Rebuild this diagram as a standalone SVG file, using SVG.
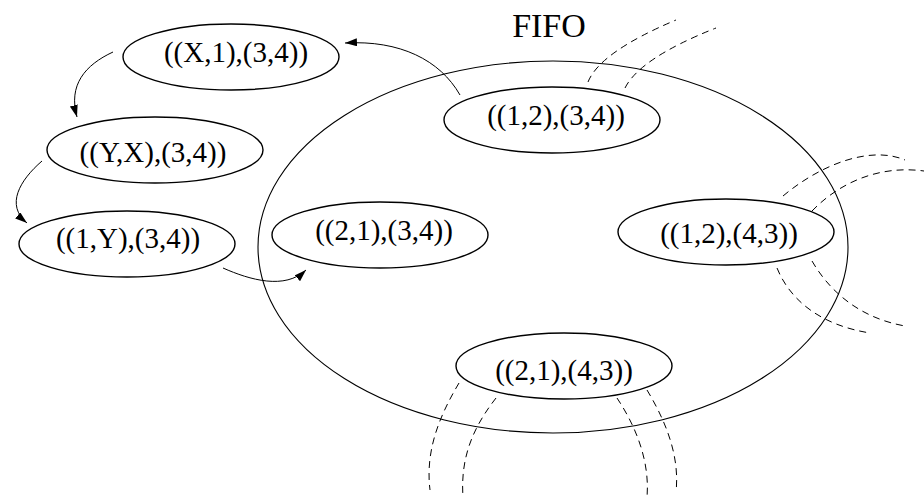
<svg xmlns="http://www.w3.org/2000/svg" width="924" height="501" viewBox="0 0 924 501">
<style>
.node ellipse{fill:#fff;stroke:#000;stroke-width:1.4}
.node text{font-family:"Liberation Serif","Times New Roman",serif;font-size:29px;text-anchor:middle;fill:#000}
.edge{fill:none;stroke:#000;stroke-width:1}
.dash{fill:none;stroke:#000;stroke-width:1;stroke-dasharray:7 5}
.title{font-family:"Liberation Serif","Times New Roman",serif;font-size:34px;text-anchor:middle;fill:#000}
</style>
<defs>
<marker id="ah" viewBox="0 0 12 8" refX="12" refY="4" markerWidth="12" markerHeight="8" markerUnits="userSpaceOnUse" orient="auto">
<path d="M0,0 L12,4 L0,8 Z" fill="#000"/>
</marker>
</defs>
<rect width="924" height="501" fill="#fff"/>
<ellipse id="fifo-set" cx="553" cy="247" rx="295" ry="186" fill="none" stroke="#000" stroke-width="1.1"/>
<text class="title" x="549" y="37">FIFO</text>
<g id="dashes">
<path class="dash" d="M588,82 Q600,52 676,20"/>
<path class="dash" d="M625,88 Q640,58 716,28"/>
<path class="dash" d="M783,196 C820,165 870,145 905,160"/>
<path class="dash" d="M812,211 C840,182 880,165 924,171"/>
<path class="dash" d="M777,268 C790,300 820,325 870,333"/>
<path class="dash" d="M812,261 C830,292 860,318 905,326"/>
<path class="dash" d="M459,383 C440,415 425,450 430,490"/>
<path class="dash" d="M496,398 C475,425 460,455 463,497"/>
<path class="dash" d="M617,398 C635,425 650,460 647,497"/>
<path class="dash" d="M647,390 C665,420 680,455 676,492"/>
</g>
<g id="connectors">
<path class="edge" d="M460,95 C440,60 400,40 345,43" marker-end="url(#ah)"/>
<path class="edge" d="M113,52 C85,65 68,85 77,117" marker-end="url(#ah)"/>
<path class="edge" d="M42,161 C20,180 5,205 27,223" marker-end="url(#ah)"/>
<path class="edge" d="M223,268 C250,280 285,290 306,270" marker-end="url(#ah)"/>
</g>
<g id="n-x1" class="node"><ellipse cx="231" cy="57" rx="108" ry="33"/><text x="236" y="62">((X,1),(3,4))</text></g>
<g id="n-yx" class="node"><ellipse cx="155" cy="150" rx="108" ry="33"/><text x="153" y="162">((Y,X),(3,4))</text></g>
<g id="n-1y" class="node"><ellipse cx="127" cy="244" rx="108" ry="33"/><text x="128" y="248">((1,Y),(3,4))</text></g>
<g id="n-21-34" class="node"><ellipse cx="380" cy="235" rx="108" ry="33"/><text x="384" y="240">((2,1),(3,4))</text></g>
<g id="n-12-34" class="node"><ellipse cx="552" cy="120" rx="108" ry="33"/><text x="556" y="125">((1,2),(3,4))</text></g>
<g id="n-12-43" class="node"><ellipse cx="726" cy="232" rx="108" ry="33"/><text x="729" y="243">((1,2),(4,3))</text></g>
<g id="n-21-43" class="node"><ellipse cx="564" cy="366" rx="108" ry="33"/><text x="564" y="380">((2,1),(4,3))</text></g>
</svg>
